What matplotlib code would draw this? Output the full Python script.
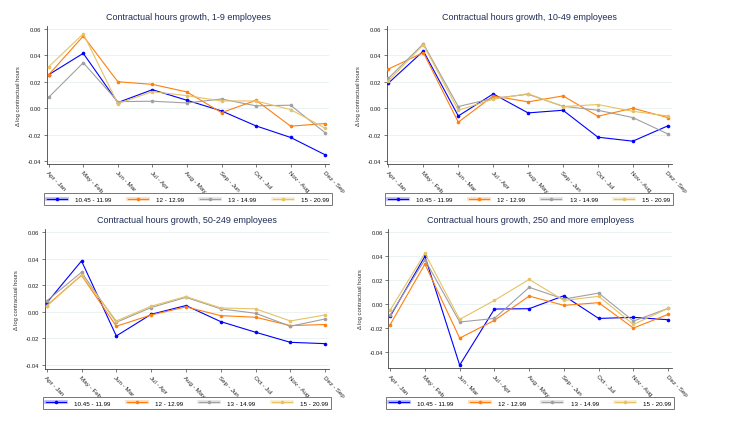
import matplotlib
matplotlib.use("Agg")
import matplotlib.pyplot as plt
from matplotlib.lines import Line2D
from matplotlib.legend_handler import HandlerTuple

categories = ["Apr - Jan", "May - Feb", "Jun - Mar", "Jul - Apr", "Aug - May",
              "Sep - Jun", "Oct - Jul", "Nov - Aug", "Dez - Sep"]
series_names = ["10.45 - 11.99", "12 - 12.99", "13 - 14.99", "15 - 20.99"]
yticks = [0.06, 0.04, 0.02, 0.00, -0.02, -0.04]
ytick_labels = ["0.06", "0.04", "0.02", "0.00", "-0.02", "-0.04"]

titles = ["Contractual hours growth, 1-9 employees",
          "Contractual hours growth, 10-49 employees",
          "Contractual hours growth, 50-249 employees",
          "Contractual hours growth, 250 and more employess"]

# panel 1: 1-9 employees
p1_s1 = [0.0253, 0.0414, 0.0043, 0.0140, 0.0060, -0.0020, -0.0133, -0.0220, -0.0351]
p1_s2 = [0.0253, 0.0544, 0.0200, 0.0180, 0.0123, -0.0033, 0.0060, -0.0135, -0.0115]
p1_s3 = [0.0083, 0.0343, 0.0050, 0.0053, 0.0040, 0.0070, 0.0018, 0.0023, -0.0185]
p1_s4 = [0.0313, 0.0561, 0.0035, 0.0125, 0.0095, 0.0055, 0.0055, -0.0010, -0.0150]

# panel 2: 10-49 employees
p2_s1 = [0.0190, 0.0431, -0.0058, 0.0108, -0.0035, -0.0015, -0.0218, -0.0248, -0.0133]
p2_s2 = [0.0296, 0.0419, -0.0105, 0.0093, 0.0048, 0.0093, -0.0060, 0.0000, -0.0070]
p2_s3 = [0.0226, 0.0486, 0.0013, 0.0075, 0.0105, 0.0015, -0.0015, -0.0070, -0.0193]
p2_s4 = [0.0208, 0.0479, -0.0015, 0.0068, 0.0110, 0.0013, 0.0028, -0.0023, -0.0058]

# panel 3: 50-249 employees
p3_s1 = [0.0068, 0.0384, -0.0181, -0.0018, 0.0048, -0.0073, -0.0153, -0.0229, -0.0239]
p3_s2 = [0.0048, 0.0276, -0.0108, -0.0023, 0.0038, -0.0028, -0.0040, -0.0103, -0.0095]
p3_s3 = [0.0083, 0.0299, -0.0078, 0.0033, 0.0110, 0.0023, -0.0010, -0.0108, -0.0053]
p3_s4 = [0.0043, 0.0279, -0.0068, 0.0043, 0.0116, 0.0030, 0.0023, -0.0068, -0.0023]

# panel 4: 250 and more employees
p4_s1 = [-0.0100, 0.0400, -0.0506, -0.0039, -0.0036, 0.0072, -0.0117, -0.0108, -0.0128]
p4_s2 = [-0.0169, 0.0336, -0.0281, -0.0133, 0.0069, -0.0008, 0.0014, -0.0197, -0.0083]
p4_s3 = [-0.0089, 0.0372, -0.0147, -0.0117, 0.0142, 0.0044, 0.0094, -0.0139, -0.0033]
p4_s4 = [-0.0047, 0.0425, -0.0125, 0.0033, 0.0208, 0.0033, 0.0067, -0.0167, -0.0033]

panels = [[p1_s1, p1_s2, p1_s3, p1_s4],
          [p2_s1, p2_s2, p2_s3, p2_s4],
          [p3_s1, p3_s2, p3_s3, p3_s4],
          [p4_s1, p4_s2, p4_s3, p4_s4]]

colors = ["#0000ff", "#ff7f0e", "#a0a0a0", "#e6c264"]
title_color = "#1f2d57"

plt.rcParams['font.family'] = ['Liberation Sans', 'DejaVu Sans']
fig = plt.figure(figsize=(7.47, 4.27), dpi=100)

# [left, bottom, width, height]
rects = [
    [0.0629, 0.6136, 0.4404 - 0.0629, 0.9368 - 0.6136],
    [0.5177, 0.6136, 0.8990 - 0.5177, 0.9368 - 0.6136],
    [0.0602, 0.1335, 0.4404 - 0.0602, 0.4614 - 0.1335],
    [0.5200, 0.1358, 0.8996 - 0.5200, 0.4614 - 0.1358],
]
ylims = [(-0.042, 0.062), (-0.042, 0.062), (-0.043, 0.0625), (-0.053, 0.0628)]
legend_y = [0.531, 0.531, 0.054, 0.054]

x = list(range(len(categories)))
for i, (rect, data) in enumerate(zip(rects, panels)):
    ax = fig.add_axes(rect)
    for j, vals in enumerate(data):
        ax.plot(x, vals, color=colors[j], lw=0.8, marker='o', ms=2.6,
                markeredgewidth=0, zorder=3)
    ax.set_xlim(-0.05, 8.11)
    ax.set_ylim(*ylims[i])
    ax.set_yticks(yticks)
    ax.set_yticklabels(ytick_labels, fontsize=4.2, color="#222222")
    ax.set_xticks(x)
    ax.set_xticklabels(categories, rotation=-45, ha='left', va='top',
                       fontsize=4.5, rotation_mode='anchor', color="#222222")
    ax.tick_params(axis='both', length=2.5, width=0.5, color="#444444", pad=1.5)
    for sp in ['top', 'right']:
        ax.spines[sp].set_visible(False)
    for sp in ['left', 'bottom']:
        ax.spines[sp].set_linewidth(0.6)
        ax.spines[sp].set_color("#444444")
    ax.grid(axis='y', color="#e8f0f0", lw=0.6, zorder=0)
    ax.set_axisbelow(True)
    ax.set_ylabel("Δ log contractual hours", fontsize=4.2, color="#333333", labelpad=5)
    ax.set_title(titles[i], fontsize=6.5, color=title_color, pad=5)

    handles = [
        (Line2D([0], [0], color=colors[j], lw=2.6, alpha=0.3),
         Line2D([0], [0], color=colors[j], lw=0.8, marker='o', ms=2.6,
                markeredgewidth=0))
        for j in range(4)
    ]
    leg = fig.legend(handles, series_names, loc='center',
                     bbox_to_anchor=(rect[0] + rect[2] / 2, legend_y[i]),
                     ncol=4, fontsize=4.5, frameon=True, fancybox=False,
                     edgecolor="#555555", handlelength=3.2, columnspacing=2.6,
                     handletextpad=1.3, borderpad=0.5,
                     handler_map={tuple: HandlerTuple(ndivide=1)})
    leg.get_frame().set_linewidth(0.7)

fig.savefig("out.png", dpi=100)
